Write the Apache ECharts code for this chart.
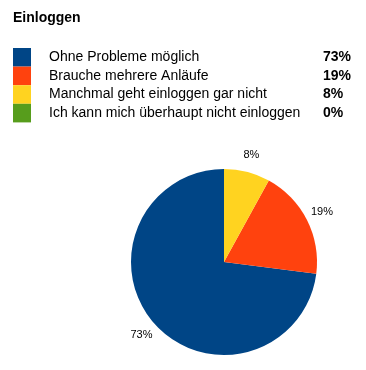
<!DOCTYPE html>
<html><head><meta charset="utf-8">
<script src="https://cdn.jsdelivr.net/npm/echarts@6/dist/echarts.min.js"></script>
<style>html,body{margin:0;padding:0;background:#fff}#c{width:366px;height:370px}</style>
</head><body><div id="c"></div>
<script>
const title = 'Einloggen';
const categories = ['Ohne Probleme möglich', 'Brauche mehrere Anläufe', 'Manchmal geht einloggen gar nicht', 'Ich kann mich überhaupt nicht einloggen'];
const values = [73, 19, 8, 0];
const colors = ['#004586', '#ff420e', '#ffd320', '#579d1c'];

const font = '"Liberation Sans", Arial, sans-serif';
const data = categories.map((c, i) => ({ name: c, value: values[i], itemStyle: { color: colors[i] } }));
const chart = echarts.init(document.getElementById('c'));
chart.setOption({
  animation: false,
  title: { text: title, left: 13, top: 11, padding: 0,
    textStyle: { fontFamily: font, fontSize: 14, fontWeight: 'bold', color: '#000' } },
  legend: {
    orient: 'vertical', left: 13, top: 48, padding: 0,
    itemWidth: 18, itemHeight: 18.6, itemGap: 0,
    icon: 'rect', selectedMode: false,
    data: categories,
    formatter: function (name) {
      const i = categories.indexOf(name);
      return '{n|' + name + '}{p|' + values[i] + '%}';
    },
    textStyle: {
      fontFamily: font, fontSize: 14, color: '#000', padding: [0, 0, 0, 13],
      rich: {
        n: { fontFamily: font, fontSize: 14, color: '#000', width: 274, lineHeight: 18 },
        p: { fontFamily: font, fontSize: 14, color: '#000', fontWeight: 'bold', lineHeight: 18 }
      }
    }
  },
  series: [
    {
      type: 'pie', center: [224, 262], radius: 93,
      startAngle: 90, clockwise: false, silent: true,
      label: { show: false }, labelLine: { show: false },
      itemStyle: { borderWidth: 0 },
      data: data
    },
    {
      type: 'pie', center: [224, 262], radius: [97, 117],
      startAngle: 90, clockwise: false, silent: true,
      itemStyle: { color: 'transparent', borderWidth: 0 },
      labelLine: { show: false },
      label: { show: true, position: 'inside', fontFamily: font, fontSize: 11, color: '#000',
        formatter: p => p.value > 0 ? p.value + '%' : '' },
      data: categories.map((c, i) => ({ name: c, value: values[i] }))
    }
  ]
});
</script></body></html>
